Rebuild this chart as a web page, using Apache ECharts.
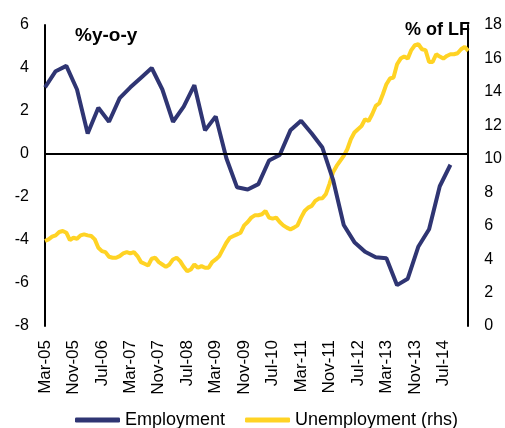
<!DOCTYPE html>
<html>
<head>
<meta charset="utf-8">
<script src="https://cdn.jsdelivr.net/npm/echarts@6/dist/echarts.min.js"></script>
<style>
  html, body { margin: 0; padding: 0; background: #fff; }
  #chart { width: 505px; height: 428px; }
</style>
</head>
<body>
<div id="chart"></div>
<script>
// months Mar-05 .. Feb-15
const monthNames = ['Jan', 'Feb', 'Mar', 'Apr', 'May', 'Jun', 'Jul', 'Aug', 'Sep', 'Oct', 'Nov', 'Dec']
const months = []
for (let i = 0; i < 120; i++) {
    const m = (2 + i) % 12
    const y = 5 + Math.floor((2 + i) / 12)
    months.push(monthNames[m] + '-' + String(y).padStart(2, '0'))
}

// employment, % y-o-y, quarterly (Mar-05 .. Sep-14)
const employmentQ = [
    3.1, 3.85, 4.1, 3.0, 0.95, 2.15, 1.5, 2.6, 3.1, 3.55,
    4.0, 3.0, 1.5, 2.2, 3.2, 1.1, 1.75, -0.2, -1.55, -1.65,
    -1.4, -0.3, -0.05, 1.1, 1.55, 0.95, 0.3, -1.2, -3.3, -4.1,
    -4.55, -4.8, -4.85, -6.1, -5.8, -4.3, -3.5, -1.5, -0.5
]

// unemployment, % of labour force, monthly (rhs)
const unemployment = [
    5.08, 5.18, 5.34, 5.42, 5.62, 5.68, 5.58, 5.14, 5.28, 5.22,
    5.42, 5.48, 5.42, 5.38, 5.18, 4.68, 4.48, 4.42, 4.14, 4.08,
    4.08, 4.18, 4.34, 4.42, 4.34, 4.42, 4.18, 3.82, 3.72, 3.62,
    4.02, 4.08, 3.82, 3.68, 3.54, 3.68, 3.98, 4.08, 3.88, 3.54,
    3.28, 3.38, 3.68, 3.48, 3.58, 3.48, 3.48, 3.82, 3.98, 4.18,
    4.58, 4.98, 5.28, 5.38, 5.48, 5.58, 6.02, 6.22, 6.48, 6.62,
    6.62, 6.68, 6.88, 6.48, 6.42, 6.48, 6.22, 6.02, 5.88, 5.78,
    5.88, 6.02, 6.48, 6.88, 7.08, 7.18, 7.48, 7.62, 7.64, 7.9,
    8.5, 9.2, 9.57, 9.87, 10.17, 10.57, 11.17, 11.57, 11.77, 11.96,
    12.36, 12.26, 12.66, 13.16, 13.32, 13.86, 14.46, 14.8, 14.86, 15.65,
    15.99, 16.11, 15.99, 16.5, 16.79, 16.85, 16.55, 16.5, 15.79, 15.79,
    16.25, 16.11, 15.99, 16.15, 16.25, 16.25, 16.31, 16.55, 16.69, 16.45
]

// quarterly points placed on the month they belong to
const employment = months.map((_, i) => (i % 3 === 0 && employmentQ[i / 3] !== undefined) ? employmentQ[i / 3] : null)

const font = 'Liberation Sans, Arial, sans-serif'
const navy = '#2f3573'
const yellow = '#ffd324'

const chart = echarts.init(document.getElementById('chart'))
chart.setOption({
    animation: false,
    textStyle: { fontFamily: font, color: '#000' },
    grid: { left: 45, right: 34, top: 25, bottom: 102 },
    legend: {
        top: 406,
        left: 70,
        icon: 'roundRect',
        itemWidth: 45,
        itemHeight: 5,
        itemGap: 20,
        textStyle: { fontFamily: font, fontSize: 18, color: '#000' },
        data: ['Employment', 'Unemployment (rhs)']
    },
    xAxis: {
        type: 'category',
        data: months,
        boundaryGap: false,
        axisLine: { show: false },
        axisTick: { show: false },
        axisLabel: {
            interval: 7,
            rotate: 90,
            margin: 14,
            fontSize: 17,
            color: '#000',
            fontFamily: font
        }
    },
    yAxis: [
        {
            type: 'value', min: -8, max: 6, interval: 2,
            axisLine: { show: true, lineStyle: { color: '#000', width: 2 } },
            axisTick: { show: false },
            splitLine: { show: false },
            axisLabel: { fontSize: 16, color: '#000', margin: 16, fontFamily: font }
        },
        {
            type: 'value', min: 0, max: 18, interval: 2,
            axisLine: { show: true, lineStyle: { color: '#000', width: 2 } },
            axisTick: { show: false },
            splitLine: { show: false },
            axisLabel: { fontSize: 16, color: '#000', margin: 16, fontFamily: font }
        }
    ],
    graphic: [
        { type: 'text', left: 75, top: 26, style: { text: '%y-o-y', font: 'bold 19px ' + font, fill: '#000' } },
        { type: 'text', right: 35, top: 21, style: { text: '% of LF', font: 'bold 18px ' + font, fill: '#000' } }
    ],
    series: [
        {
            name: 'Unemployment (rhs)',
            type: 'line',
            yAxisIndex: 1,
            data: unemployment,
            showSymbol: false,
            lineStyle: { color: yellow, width: 4 },
            itemStyle: { color: yellow }
        },
        {
            name: 'Employment',
            type: 'line',
            yAxisIndex: 0,
            data: employment,
            connectNulls: true,
            showSymbol: false,
            lineStyle: { color: navy, width: 4 },
            itemStyle: { color: navy },
            markLine: {
                silent: true,
                symbol: 'none',
                label: { show: false },
                lineStyle: { color: '#000', width: 2, type: 'solid' },
                data: [{ yAxis: 0 }]
            }
        }
    ]
})
</script>
</body>
</html>
